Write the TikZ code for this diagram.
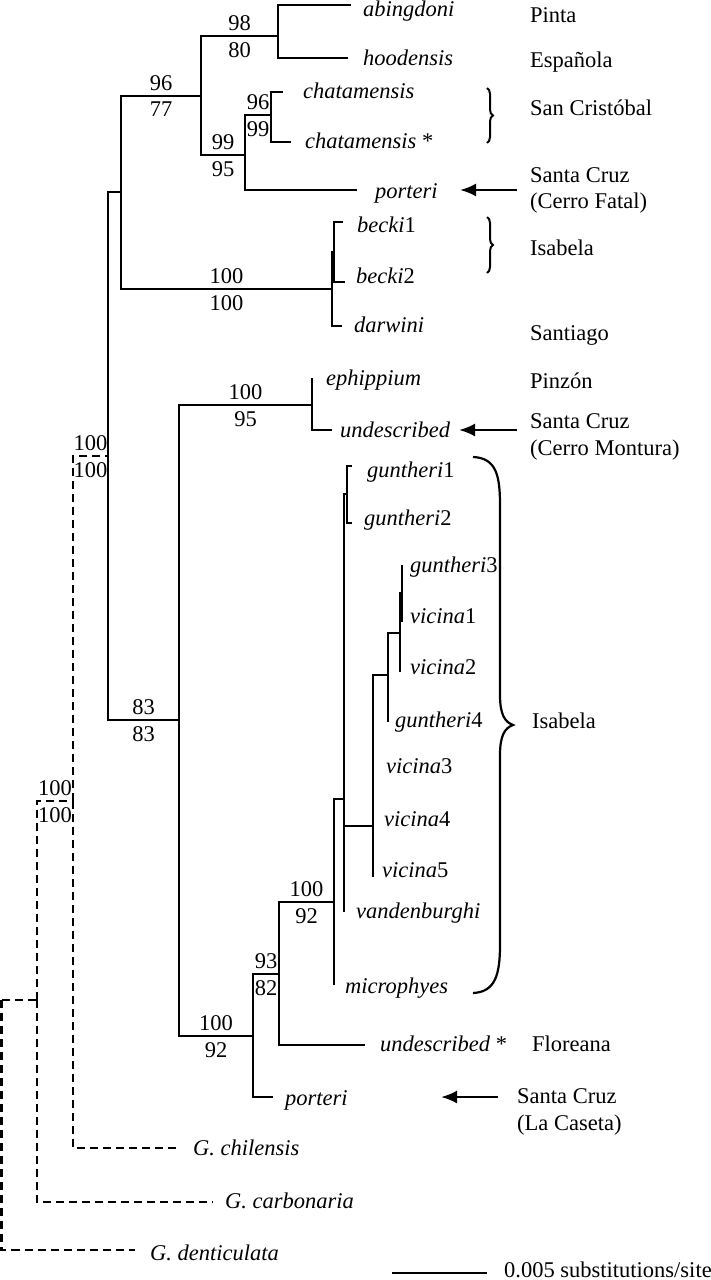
\documentclass[tikz,border=0pt]{standalone}
\usepackage{fontspec}
\setmainfont{Liberation Serif}
\usetikzlibrary{arrows.meta, decorations.pathreplacing}

\begin{document}
\begin{tikzpicture}[%
  x=1pt, y=-1pt,%
  font=\fontsize{22.5}{27}\selectfont,%
  branch/.style={line width=2.5pt},%
  outgroup/.style={line width=2.5pt, dash pattern=on 8pt off 5pt},%
  taxon/.style={anchor=base west, inner sep=0pt, font=\fontsize{22.5}{27}\selectfont\itshape},%
  island/.style={anchor=base west, inner sep=0pt},%
  bup/.style={pos=0.75, above=4pt, inner sep=0pt},%
  bdn/.style={pos=0.75, below=5pt, inner sep=0pt},%
  arrow/.style={-{Latex[length=16pt, width=13pt]}, line width=2.5pt},%
  islebrace/.style={decorate, decoration={brace, amplitude=6pt}, line width=2pt}%
]
  \useasboundingbox (0,0) rectangle (711,1280);

  \coordinate (oA) at (1.5,1000);
  \coordinate (oB) at (37,1000);
  \coordinate (oC) at (73,801);
  \coordinate (nD) at (108,456);
  \coordinate (nE) at (121,192);
  \coordinate (nF) at (201,96);
  \coordinate (nG) at (278,36);
  \coordinate (nH) at (245,155);
  \coordinate (nI) at (271,115);
  \coordinate (nJ) at (332,289);
  \coordinate (nJb) at (334,252);
  \coordinate (nK) at (179,720);
  \coordinate (nL) at (312,405);
  \coordinate (nM) at (253,1036);
  \coordinate (nN) at (279,974);
  \coordinate (nO) at (334,902);
  \coordinate (nP) at (344,799);
  \coordinate (nQ) at (347,494);
  \coordinate (nR) at (373,826);
  \coordinate (nS) at (388,675);
  \coordinate (nT) at (400,633);
  \coordinate (nU) at (402,593);

  \coordinate (abi) at (351,5);
  \coordinate (hoo) at (348,58);
  \coordinate (chA) at (283,92);
  \coordinate (chB) at (291,142);
  \coordinate (porA) at (357,190);
  \coordinate (beA) at (343,222);
  \coordinate (beB) at (345,282);
  \coordinate (dar) at (342,326);
  \coordinate (eph) at (312,378);
  \coordinate (undA) at (332,430);
  \coordinate (guA) at (352,466);
  \coordinate (guB) at (352,523);
  \coordinate (guC) at (402,565);
  \coordinate (viA) at (402,622);
  \coordinate (viB) at (400,672);
  \coordinate (guD) at (388,722);
  \coordinate (viC) at (373,768);
  \coordinate (viD) at (373,820);
  \coordinate (viE) at (373,877);
  \coordinate (van) at (344,912);
  \coordinate (mic) at (334,985);
  \coordinate (undB) at (365,1045);
  \coordinate (porB) at (273,1097);
  \coordinate (chi) at (180,1148);
  \coordinate (car) at (213,1202);
  \coordinate (den) at (135,1250);

  \draw[outgroup] (oA) |- (oB);
  \draw[outgroup] (oA) |- (den);
  \draw[outgroup] (oB) |- node[bup] (bsBu) {100} node[bdn] (bsBd) {100} (oC);
  \draw[outgroup] (oB) |- (car);
  \draw[outgroup] (oC) |- node[bup] (bsCu) {100} node[bdn] (bsCd) {100} (nD);
  \draw[outgroup] (oC) |- (chi);

  \draw[branch] (nD) |- (nE);
  \draw[branch] (nD) |- node[bup] (bsDu) {83} node[bdn] (bsDd) {83} (nK);
  \draw[branch] (nE) |- node[bup] (bsEu) {96} node[bdn] (bsEd) {77} (nF);
  \draw[branch] (nE) |- node[bup] (bsJu) {100} node[bdn] (bsJd) {100} (nJ);
  \draw[branch] (nF) |- node[bup] (bsGu) {98} node[bdn] (bsGd) {80} (nG);
  \draw[branch] (nF) |- node[bup] (bsHu) {99} node[bdn] (bsHd) {95} (nH);
  \draw[branch] (nG) |- (abi);
  \draw[branch] (nG) |- (hoo);
  \draw[branch] (nH) |- node[bup] (bsIu) {96} node[bdn] (bsId) {99} (nI);
  \draw[branch] (nH) |- (porA);
  \draw[branch] (nI) |- (chA);
  \draw[branch] (nI) |- (chB);
  \draw[branch] (nJ) |- (nJb);
  \draw[branch] (nJ) |- (dar);
  \draw[branch] (nJb) |- (beA);
  \draw[branch] (nJb) |- (beB);
  \draw[branch] (nK) |- node[bup] (bsLu) {100} node[bdn] (bsLd) {95} (nL);
  \draw[branch] (nK) |- node[bup] (bsMu) {100} node[bdn] (bsMd) {92} (nM);
  \draw[branch] (nL) |- (eph);
  \draw[branch] (nL) |- (undA);
  \draw[branch] (nM) |- node[bup] (bsNu) {93} node[bdn] (bsNd) {82} (nN);
  \draw[branch] (nM) |- (porB);
  \draw[branch] (nN) |- node[bup] (bsOu) {100} node[bdn] (bsOd) {92} (nO);
  \draw[branch] (nN) |- (undB);
  \draw[branch] (nO) |- (nP);
  \draw[branch] (nO) |- (mic);
  \draw[branch] (nP) |- (nQ);
  \draw[branch] (nP) |- (nR);
  \draw[branch] (nP) |- (van);
  \draw[branch] (nQ) |- (guA);
  \draw[branch] (nQ) |- (guB);
  \draw[branch] (nR) |- (nS);
  \draw[branch] (nR) |- (viC);
  \draw[branch] (nR) |- (viD);
  \draw[branch] (nR) |- (viE);
  \draw[branch] (nS) |- (nT);
  \draw[branch] (nS) |- (guD);
  \draw[branch] (nT) |- (nU);
  \draw[branch] (nT) |- (viB);
  \draw[branch] (nU) |- (guC);
  \draw[branch] (nU) |- (viA);

  \node[taxon] (tAbi) at (363,16.5) {abingdoni};
  \node[taxon] (tHoo) at (363,65) {hoodensis};
  \node[taxon] (tChA) at (303,98) {chatamensis};
  \node[taxon] (tChB) at (305,148) {chatamensis \textup{*}};
  \node[taxon] (tPorA) at (375,198) {porteri};
  \node[taxon] (tBeA) at (357,232) {becki\textup{1}};
  \node[taxon] (tBeB) at (356,283) {becki\textup{2}};
  \node[taxon] (tDar) at (354,332) {darwini};
  \node[taxon] (tEph) at (326,385) {ephippium};
  \node[taxon] (tUndA) at (340,437) {undescribed};
  \node[taxon] (tGuA) at (367,477) {guntheri\textup{1}};
  \node[taxon] (tGuB) at (364,525) {guntheri\textup{2}};
  \node[taxon] (tGuC) at (410,572) {guntheri\textup{3}};
  \node[taxon] (tViA) at (410,623) {vicina\textup{1}};
  \node[taxon] (tViB) at (410,674) {vicina\textup{2}};
  \node[taxon] (tGuD) at (395,727) {guntheri\textup{4}};
  \node[taxon] (tViC) at (386,773) {vicina\textup{3}};
  \node[taxon] (tViD) at (384,826) {vicina\textup{4}};
  \node[taxon] (tViE) at (382,877) {vicina\textup{5}};
  \node[taxon] (tVan) at (356,918) {vandenburghi};
  \node[taxon] (tMic) at (345,993) {microphyes};
  \node[taxon] (tUndB) at (380,1051) {undescribed \textup{*}};
  \node[taxon] (tPorB) at (285,1105) {porteri};
  \node[taxon] (tChi) at (193,1155) {G. chilensis};
  \node[taxon] (tCar) at (225,1208) {G. carbonaria};
  \node[taxon] (tDen) at (150,1260) {G. denticulata};

  \node[island] (pPinta) at (530,22) {Pinta};
  \node[island] (pEsp) at (530,67) {Española};
  \node[island] (pSanCr) at (530,115) {San Cristóbal};
  \node[island] (pScA) at (530,182) {Santa Cruz};
  \node[island] (pScAb) at (530,208) {(Cerro Fatal)};
  \node[island] (pIsaA) at (530,255) {Isabela};
  \node[island] (pSant) at (530,340) {Santiago};
  \node[island] (pPinz) at (530,388) {Pinzón};
  \node[island] (pScB) at (530,428) {Santa Cruz};
  \node[island] (pScBb) at (530,455) {(Cerro Montura)};
  \node[island] (pIsaB) at (532,728) {Isabela};
  \node[island] (pFlor) at (532,1051) {Floreana};
  \node[island] (pScC) at (517,1103) {Santa Cruz};
  \node[island] (pScCb) at (517,1130) {(La Caseta)};

  \draw[islebrace] (487,88) -- (487,143);
  \draw[islebrace] (487,217) -- (487,273);
  \draw[line width=2.2pt] (473,457) .. controls (496,458) and (500,475) .. (500,505) -- (500,695) .. controls (500,715) and (505,722) .. (513,725) .. controls (505,728) and (500,735) .. (500,755) -- (500,945) .. controls (500,975) and (495,992) .. (473,993);

  \coordinate (tipA) at (460,190);
  \coordinate (tailA) at (517,190);
  \coordinate (tipB) at (459,430);
  \coordinate (tailB) at (517,430);
  \coordinate (tipC) at (441,1097);
  \coordinate (tailC) at (498,1097);
  \draw[arrow] (tailA) -- (tipA);
  \draw[arrow] (tailB) -- (tipB);
  \draw[arrow] (tailC) -- (tipC);

  \coordinate (sbL) at (392,1273);
  \coordinate (sbR) at (487,1273);
  \draw[branch] (sbL) -- (sbR);
  \node[island] (sbText) at (504,1277) {0.005 substitutions/site};
\end{tikzpicture}
\end{document}
